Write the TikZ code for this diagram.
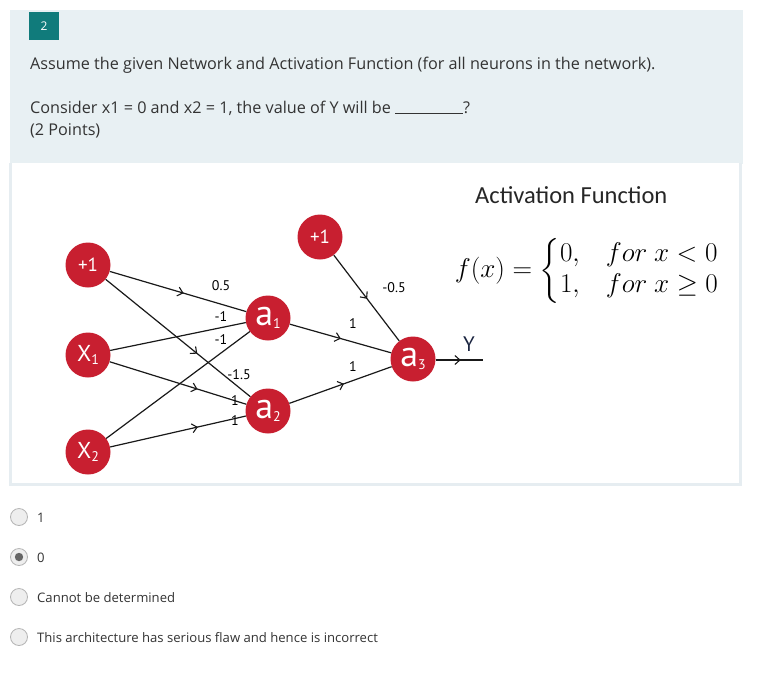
\documentclass[tikz,border=0pt]{standalone}
\usepackage{amsmath}
\usepackage{fontspec}
\setmainfont{Open Sans}
\newfontfamily\calib{Carlito}
\newfontfamily\netfont{PT Sans}
\usetikzlibrary{decorations.markings,arrows.meta}
\definecolor{panelblue}{HTML}{E8F0F3}
\definecolor{panelborder}{HTML}{E6EDF1}
\definecolor{badge}{HTML}{107B7B}
\definecolor{nred}{HTML}{C81F30}
\definecolor{txt}{HTML}{333333}
\definecolor{ynavy}{HTML}{1A2440}
\definecolor{radioedge}{HTML}{B4B4B4}
\definecolor{radiofill}{HTML}{EEEEEE}
\newcommand{\sbs}[1]{\raisebox{-2.5pt}{\fontsize{14}{14}\selectfont #1}}
\tikzset{
  neuron/.style={circle, fill=nred, minimum size=45pt, inner sep=0pt, text=white, font=\netfont\fontsize{19}{19}\selectfont},
  wire/.style={draw=black!90, line width=1.2pt},
  midarrow/.style={postaction={decorate, decoration={markings, mark=at position #1 with {\arrow{Straight Barb[length=5pt,width=9pt,line width=1.1pt]}}}}},
  wlabel/.style={font=\netfont\fontsize{14}{14}\selectfont, inner sep=0pt},
  qtext/.style={anchor=base west, inner sep=0pt, text=txt, font=\fontsize{16.2}{16.2}\selectfont},
  opttext/.style={anchor=base west, inner sep=0pt, text=txt, font=\fontsize{13.1}{13.1}\selectfont},
  radio/.style={circle, draw=radioedge, fill=radiofill, line width=0.8pt, minimum size=17pt, inner sep=0pt}
}
\begin{document}
\begin{tikzpicture}[x=1pt,y=-1pt]
\useasboundingbox (0,0) rectangle (771,683);
\fill[white] (0,0) rectangle (771,683);
% panels
\fill[panelblue] (10,10) rectangle (743,164);
\fill[white] (10,163) rectangle (742,486);
\draw[panelborder, line width=3pt] (10.5,163) -- (10.5,484.5) -- (740.5,484.5) -- (740.5,163);
% badge
\fill[badge] (29,12) rectangle (59,40);
\node[text=white, font=\fontsize{12}{12}\selectfont, inner sep=0pt] (badge) at (44,26) {2};
% question
\node[qtext] (q1) at (30,69) {Assume the given Network and Activation Function (for all neurons in the network).};
\node[qtext] (q2) at (30,113) {Consider x1 = 0 and x2 = 1, the value of Y will be \rule[-1pt]{68pt}{0.6pt}?};
\node[qtext] (q3) at (30,135) {(2 Points)};
% activation function
\node[anchor=base west, inner sep=0pt, font=\calib\fontsize{24.5}{24.5}\selectfont, text=black!85] (af) at (475,203) {Activation Function};
\node[inner sep=0pt, font=\fontsize{24}{24}\selectfont] (fx) at (587,271) {\scalebox{1.09}{$f(x)=\begin{cases}0, & for\ x<0\\[0pt] 1, & for\ x\geq 0\end{cases}$}};
% neurons
\node[neuron] (p1) at (88,265) {+1};
\node[neuron] (x1) at (88,355) {\fontsize{23}{23}\selectfont X\sbs{1}};
\node[neuron] (x2) at (88,452) {\fontsize{23}{23}\selectfont X\sbs{2}};
\node[neuron] (a1) at (268,318) {\fontsize{36}{36}\selectfont a\sbs{1}};
\node[neuron] (a2) at (268,411) {\fontsize{36}{36}\selectfont a\sbs{2}};
\node[neuron] (p2) at (320,237) {+1};
\node[neuron] (a3) at (413,359) {\fontsize{36}{36}\selectfont a\sbs{3}};
\coordinate (yend) at (483,360);
% connections
\draw[wire, midarrow=77pt] (p1) -- (a1);
\draw[wire, midarrow=118pt] (p1) -- (a2);
\draw[wire] (x1) -- (a1);
\draw[wire, midarrow=92pt] (x1) -- (a2);
\draw[wire] (x2) -- (a1);
\draw[wire, midarrow=90pt] (x2) -- (a2);
\draw[wire, midarrow=55pt] (p2) -- (a3);
\draw[wire, midarrow=53pt] (a1) -- (a3);
\draw[wire, midarrow=58pt] (a2) -- (a3);
\draw[wire, midarrow=25pt] (a3.east |- yend) -- (yend);
% weights
\node[wlabel] (w1) at (221,286) {0.5};
\node[wlabel] (w2) at (221,317) {-1};
\node[wlabel] (w3) at (221,340) {-1};
\node[wlabel] (w4) at (239,375) {-1.5};
\node[wlabel] (w5) at (235,401) {1};
\node[wlabel] (w6) at (235,421) {1};
\node[wlabel] (w7) at (394,288) {-0.5};
\node[wlabel] (w8) at (353,324) {1};
\node[wlabel] (w9) at (353,367) {1};
\node[font=\netfont\fontsize{21}{21}\selectfont, text=ynavy, inner sep=0pt] (ylab) at (469,344) {Y};
% options
\node[radio] (r1) at (19,517) {};
\node[radio] (r2) at (19,557) {};
\fill[black!60] (r2.center) circle (4.2pt);
\node[radio] (r3) at (19,597) {};
\node[radio] (r4) at (19,637) {};
\node[opttext] (o1) at (37,522) {1};
\node[opttext] (o2) at (37,562) {0};
\node[opttext] (o3) at (37,602) {Cannot be determined};
\node[opttext] (o4) at (37,642) {This architecture has serious flaw and hence is incorrect};
\end{tikzpicture}
\end{document}
